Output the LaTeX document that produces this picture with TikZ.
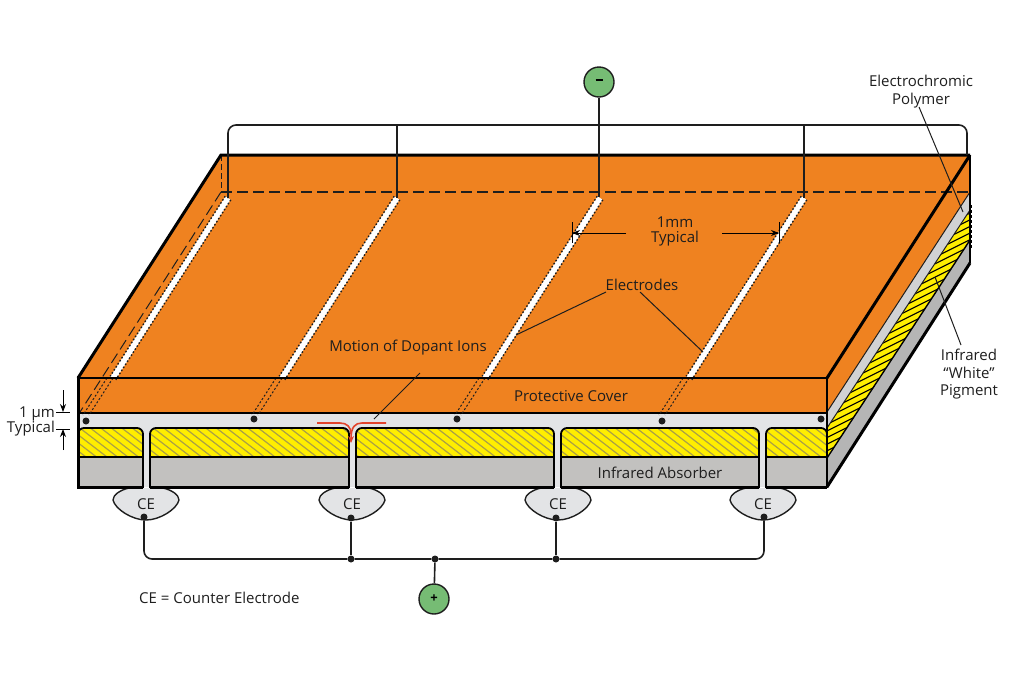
\documentclass[tikz,border=0pt]{standalone}
\usepackage{fontspec}
\setmainfont{Open Sans}
\usepackage{tikz}
\usetikzlibrary{calc, positioning, arrows.meta}
\definecolor{coverC}{RGB}{239, 130, 32}
\definecolor{polyC}{RGB}{227, 228, 230}
\definecolor{polySide}{RGB}{209, 210, 211}
\definecolor{pigmentC}{RGB}{255, 238, 0}
\definecolor{hatchC}{RGB}{170, 160, 70}
\definecolor{absorbC}{RGB}{194, 193, 191}
\definecolor{absorbSide}{RGB}{181, 181, 181}
\definecolor{termC}{RGB}{118, 188, 116}
\definecolor{ionC}{RGB}{226, 68, 44}
\definecolor{inkC}{RGB}{30, 30, 30}

\begin{document}
\begin{tikzpicture}[x=1pt, y=-1pt,
    lab/.style={font=\fontsize{15}{18}\selectfont, text=inkC, align=center, inner sep=0pt},
    wire/.style={draw=inkC, line width=1.6pt},
    leader/.style={draw=inkC, line width=1pt},
    edge3/.style={draw=black, line width=3pt},
    edge2/.style={draw=black, line width=1.8pt},
    term/.style={circle, draw=inkC, fill=termC, line width=1.4pt, minimum size=30pt, inner sep=0pt, font=\bfseries\fontsize{13}{13}\selectfont},
    junc/.style={circle, fill=inkC, minimum size=7pt, inner sep=0pt},
    dim/.style={-{Stealth[length=8pt, width=6pt]}, draw=black, line width=1pt}]
  \useasboundingbox (0,0) rectangle (1020,686);

  \coordinate (fl) at (78,378);
  \coordinate (fr) at (827,378);
  \coordinate (bl) at (221,155);
  \coordinate (br) at (970,155);
  \coordinate (hl) at (221,192);
  \coordinate (hr) at (970,192);

  % side of the stack
  \fill[absorbSide] (827,458) -- (970,240) -- (970,263) -- (827,487) -- cycle;
  \fill[pigmentC] (827,428) -- (970,210) -- (970,240) -- (827,458) -- cycle;
  \begin{scope}
    \clip (827,428) -- (970,210) -- (970,240) -- (827,458) -- cycle;
    \foreach \t in {0,...,27} {
      \draw[black, line width=1.1pt] ({798+6.5*\t},{472-9.9*\t}) -- ++(34,-17);
    }
  \end{scope}
  \fill[polySide] (827,412) -- (970,192) -- (970,210) -- (827,428) -- cycle;
  \fill[coverC] (fr) -- (br) -- (970,192) -- (827,412) -- cycle;
  \fill[coverC] (fl) -- (bl) -- (br) -- (fr) -- cycle;
  \draw[draw=inkC, line width=1pt] (827,428) -- (970,210);
  \draw[draw=black, line width=1.4pt] (827,458) -- (970,240);
  \draw[draw=inkC, line width=1pt] (827,412) -- (970,192);
  \draw[black, line width=2pt, densely dashed] (971,205) -- (971,248);
  \draw[edge2] (br) -- (970,263);

  % front of the stack
  \fill[polyC] (78,413) rectangle (827,487);
  \foreach \xa/\xb in {78/143, 150/349, 356/554, 561/759, 766/827} {
    \fill[pigmentC, sharp corners] (\xa,457) [rounded corners=6] -- (\xa,428) -- (\xb,428) [sharp corners] -- (\xb,457) -- cycle;
    \begin{scope}
      \clip[sharp corners] (\xa,457) [rounded corners=6] -- (\xa,428) -- (\xb,428) [sharp corners] -- (\xb,457) -- cycle;
      \foreach \h in {-5,...,80} {
        \draw[hatchC, line width=1.2pt] ({30+10.5*\h},422) -- ++(52,40);
      }
    \end{scope}
    \draw[edge2, sharp corners] (\xa,457) [rounded corners=6] -- (\xa,428) -- (\xb,428) [sharp corners] -- (\xb,457);
    \filldraw[fill=absorbC, edge2] (\xa,457) rectangle (\xb,487);
  }
  \fill[coverC] (78,378) rectangle (827,413);
  \draw[edge2] (78,413) -- (827,413);

  % electrodes
  \foreach \n/\ex/\dx/\dy in {1/228/86/421, 2/397/254/419, 3/600/457/419, 4/804/662/421} {
    \coordinate (etop\n) at (\ex,198);
    \coordinate (ebot\n) at ($(\ex,198)+(-115,180)$);
    \draw[white, line width=6pt] (etop\n) -- (ebot\n);
    \draw[inkC, line width=1.4pt, dash pattern=on 1.6pt off 2pt] ($(etop\n)+(2.8,1.8)$) -- ($(ebot\n)+(2.8,1.8)$);
    \draw[inkC, line width=1.4pt, dash pattern=on 1.6pt off 2pt] ($(etop\n)+(-2.8,-1.8)$) -- ($(ebot\n)+(-2.8,-1.8)$);
    \draw[inkC, line width=1pt, dash pattern=on 2pt off 2pt] ($(ebot\n)+(0,0)$) -- ++(-24,37);
    \draw[inkC, line width=1pt, dash pattern=on 2pt off 2pt] ($(ebot\n)+(-6,0)$) -- ++(-24,37);
    \node[junc] (edot\n) at (\dx,\dy) {};
  }
  \node[junc] (edot5) at (821,419) {};

  % hidden edges
  \draw[inkC, line width=1.2pt, dash pattern=on 11pt off 5pt] (hl) -- (hr);
  \draw[inkC, line width=1pt, dash pattern=on 6pt off 3pt] (bl) -- (hl);
  \draw[inkC, line width=1pt, dash pattern=on 11pt off 5pt] (hl) -- (80,412);

  % counter electrodes
  \foreach \n/\cx/\cy in {1/146/503, 2/352/503, 3/558/503, 4/763/503} {
    \filldraw[fill=polyC, draw=inkC, line width=1.4pt] (\cx-17,\cy-15) .. controls (\cx-26,\cy-13) and (\cx-33,\cy-8) .. (\cx-33,\cy-3)
      .. controls (\cx-31,\cy+6) and (\cx-14,\cy+17) .. (\cx,\cy+17)
      .. controls (\cx+14,\cy+17) and (\cx+31,\cy+6) .. (\cx+33,\cy-3)
      .. controls (\cx+33,\cy-8) and (\cx+26,\cy-13) .. (\cx+17,\cy-15);
    \node[lab] (ce\n) at (\cx,\cy+1) {CE};
  }
  \node[junc] (cedot1) at (144,517) {};
  \node[junc] (cedot2) at (351,518) {};
  \node[junc] (cedot3) at (556,518) {};
  \node[junc] (cedot4) at (764,517) {};

  % outline
  \draw[edge2] (fl) -- (fr);
  \draw[edge3] (fl) -- (bl) -- (br);
  \draw[edge3] (fr) -- (br);
  \draw[edge2] (fr) -- (827,487);
  \draw[edge3] (78,376) -- (78,487) -- (143,487);
  \foreach \xa/\xb in {150/349, 356/554, 561/759, 766/827} {
    \draw[edge3] (\xa,487) -- (\xb,487);
  }
  \draw[edge3] (827,487) -- (970,263);

  % wiring
  \node[term] (minus) at (599,82) {\rule[0.45ex]{7pt}{2pt}};
  \node[term] (plus) at (434,599) {+};
  \node[junc] (busa) at (351,559) {};
  \node[junc] (busb) at (435,559) {};
  \node[junc] (busc) at (556,559) {};
  \coordinate (topr) at (967,125);
  \coordinate (topc) at (967,155);
  \draw[wire, rounded corners=8] (etop1) |- (topr) -- (topc);
  \draw[wire] (etop2) -- (etop2 |- topr);
  \draw[wire] (minus) -- (599,197);
  \draw[wire] (etop4) -- (etop4 |- topr);
  \draw[wire, rounded corners=8] (cedot1) |- (busa) -- (busb) -- (busc) -| (cedot4);
  \draw[wire] (cedot2) -- (busa);
  \draw[wire] (cedot3) -- (busc);
  \draw[wire] (busb) -- (plus);

  % labels
  \node[lab] (polymer) at (921,91.5) {Electrochromic\\[-0.5pt]Polymer};
  \node[lab] (white) at (969,374.5) {Infrared\\[-0.5pt]“White”\\[-0.5pt]Pigment};
  \node[lab] (typical) at (675,231.5) {1mm\\[-3pt]Typical};
  \node[lab] (electrodes) at (642,284.5) {Electrodes};
  \node[lab] (motion) at (408,348) {Motion of Dopant Ions};
  \node[lab] (cover) at (571,396.5) {Protective Cover};
  \node[lab] (absorber) at (660,472.5) {Infrared Absorber};
  \node[lab, anchor=west] (legend) at (139,598) {CE = Counter Electrode};
  \node[lab, anchor=east] (um) at (55,413.5) {1 µm};
  \node[lab, anchor=east] (umtyp) at (55,428.5) {Typical};

  \coordinate (polyend) at (963,212);
  \coordinate (whiteend) at (935,277);
  \coordinate (elead1) at (516,335);
  \coordinate (elead2) at (703,352);
  \coordinate (ionend) at (374,419);
  \draw[leader] (919,107) -- (polyend);
  \draw[leader] (961,345) -- (whiteend);
  \draw[leader] (606,292) -- (elead1);
  \draw[leader] (640,292) -- (elead2);
  \draw[leader] (420,373) -- (ionend);

  % dimension marks
  \draw[dim] (626,233) -- (572,233);
  \draw[dim] (722,233) -- (779,233);
  \draw[black, line width=1pt] (572,222) -- (572,243);
  \draw[black, line width=1pt] (779,222) -- (779,243);
  \draw[dim] (63,390) -- (63,412);
  \draw[dim] (63,450) -- (63,429);
  \draw[black, line width=1pt] (56,412) -- (70,412);
  \draw[black, line width=1pt] (56,429) -- (70,429);

  % ion path
  \draw[ionC, line width=1.6pt] (317,423) -- (340,423) .. controls (347,423) and (351,427) .. (351,434);
  \draw[ionC, line width=1.6pt, -{Stealth[length=7pt, width=6pt]}] (386,423) -- (362,423) .. controls (355,423) and (351,427) .. (351,443);
\end{tikzpicture}
\end{document}
